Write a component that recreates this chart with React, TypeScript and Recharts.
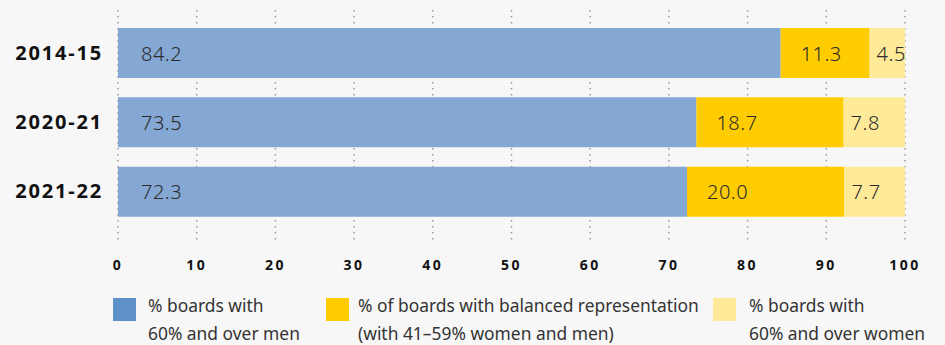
import React from 'react'
import { BarChart, Bar, XAxis, YAxis, CartesianGrid, LabelList } from 'recharts'

const years = ['2014-15', '2020-21', '2021-22']
const overMen = [84.2, 73.5, 72.3]
const balanced = [11.3, 18.7, 20.0]
const overWomen = [4.5, 7.8, 7.7]
const xTicks = [0, 10, 20, 30, 40, 50, 60, 70, 80, 90, 100]

const legendItems = [
  { color: '#5f91c9', lines: ['% boards with', '60% and over men'], left: 113, gap: 12 },
  { color: '#ffcc00', lines: ['% of boards with balanced representation', '(with 41–59% women and men)'], left: 326, gap: 9 },
  { color: '#feea98', lines: ['% boards with', '60% and over women'], left: 713, gap: 13 }
]

const data = years.map((year, i) => ({
  year,
  men: overMen[i],
  balanced: balanced[i],
  women: overWomen[i]
}))

const FONT = '"Noto Sans", "Open Sans", sans-serif'

// value label placed a fixed distance in from the segment's left edge
const makeLabel = (offset: number) => (props: any) => {
  const { x, y, height, value } = props
  return (
    <text
      x={x + offset}
      y={y + height / 2}
      dominantBaseline="central"
      fill="#2b2b2b"
      fontSize={20}
      fontFamily={FONT}
      fontWeight={300}
      letterSpacing={0.5}
    >
      {Number(value).toFixed(1)}
    </text>
  )
}

export default function App() {
  return (
    <div
      style={{
        position: 'fixed',
        left: 0,
        top: 0,
        width: 945,
        height: 345,
        background: '#f7f7f7',
        overflow: 'hidden',
        fontFamily: FONT
      }}
    >
      <BarChart
        layout="vertical"
        width={945}
        height={285}
        data={data}
        margin={{ top: 10, right: 40, left: 0, bottom: 0 }}
        barSize={50}
      >
        <CartesianGrid
          horizontal={false}
          stroke="#9a9a9a"
          strokeWidth={1.5}
          strokeDasharray="1.5 4.5"
        />
        <XAxis
          type="number"
          domain={[0, 100]}
          ticks={xTicks}
          axisLine={false}
          tickLine={false}
          tickMargin={14}
          height={45}
          tick={{ fill: '#111', fontSize: 14, fontWeight: 700, fontFamily: FONT, letterSpacing: 2.5 }}
          interval={0}
        />
        <YAxis
          type="category"
          dataKey="year"
          width={118}
          axisLine={false}
          tickLine={false}
          tickMargin={9}
          padding={{ top: 8, bottom: 14 }}
          tick={{ fill: '#111', fontSize: 20, fontWeight: 700, fontFamily: FONT, letterSpacing: 1.8 }}
        />
        <Bar dataKey="men" stackId="a" fill="#84a7d3" isAnimationActive={false}>
          <LabelList dataKey="men" content={makeLabel(23)} />
        </Bar>
        <Bar dataKey="balanced" stackId="a" fill="#ffcc00" isAnimationActive={false}>
          <LabelList dataKey="balanced" content={makeLabel(20)} />
        </Bar>
        <Bar dataKey="women" stackId="a" fill="#feea98" isAnimationActive={false}>
          <LabelList dataKey="women" content={makeLabel(7)} />
        </Bar>
      </BarChart>
      {legendItems.map((item) => (
        <div
          key={item.color}
          style={{ position: 'absolute', left: item.left, top: 298, display: 'flex' }}
        >
          <div style={{ width: 23, height: 23, background: item.color, flexShrink: 0 }} />
          <div
            style={{
              marginLeft: item.gap,
              marginTop: -7,
              fontSize: 17.4,
              lineHeight: '28px',
              color: '#333',
              whiteSpace: 'nowrap'
            }}
          >
            {item.lines.map((l) => (
              <div key={l}>{l}</div>
            ))}
          </div>
        </div>
      ))}
    </div>
  )
}
